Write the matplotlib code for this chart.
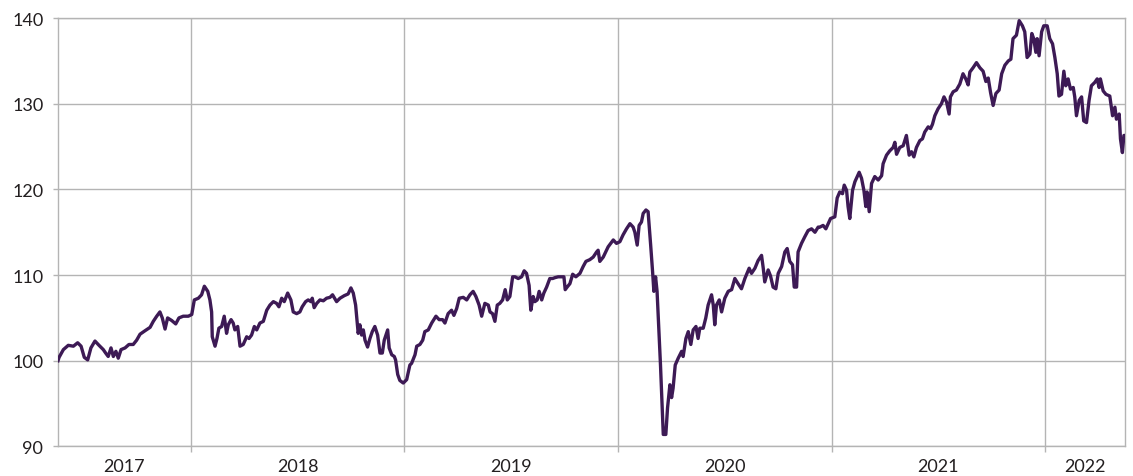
import matplotlib.pyplot as plt

# index level (start = 100), time in decimal years
years = [
    2017.379, 2017.384, 2017.404, 2017.427, 2017.451, 2017.471, 2017.487, 2017.502, 2017.518, 2017.533,
    2017.552, 2017.571, 2017.591, 2017.602, 2017.614, 2017.627, 2017.638, 2017.650, 2017.661, 2017.674,
    2017.693, 2017.711, 2017.731, 2017.747, 2017.763, 2017.786, 2017.810, 2017.825, 2017.841, 2017.856,
    2017.867, 2017.880, 2017.892, 2017.911, 2017.930, 2017.945, 2017.965, 2017.989, 2018.005, 2018.017,
    2018.036, 2018.051, 2018.064,
    2018.080, 2018.090, 2018.098, 2018.101, 2018.114, 2018.123, 2018.132, 2018.145, 2018.157, 2018.168,
    2018.176, 2018.189, 2018.199, 2018.207, 2018.220, 2018.231, 2018.246, 2018.262, 2018.273, 2018.285,
    2018.298, 2018.309, 2018.324, 2018.340, 2018.356, 2018.371, 2018.387, 2018.402, 2018.413, 2018.426,
    2018.438, 2018.454, 2018.469, 2018.480, 2018.496, 2018.511, 2018.522, 2018.538, 2018.550, 2018.563,
    2018.569, 2018.578, 2018.590, 2018.605, 2018.621, 2018.636, 2018.652, 2018.664, 2018.683, 2018.699,
    2018.719, 2018.737, 2018.750, 2018.761, 2018.772, 2018.784, 2018.792, 2018.800, 2018.808, 2018.816,
    2018.828, 2018.839, 2018.850, 2018.862, 2018.875, 2018.886, 2018.897, 2018.906, 2018.922, 2018.929,
    2018.941, 2018.953, 2018.959, 2018.969, 2018.979, 2018.995, 2019.011, 2019.026,
    2019.034, 2019.050, 2019.058, 2019.073, 2019.086, 2019.096, 2019.112, 2019.128, 2019.148, 2019.163,
    2019.179, 2019.190, 2019.205, 2019.221, 2019.232, 2019.245, 2019.257, 2019.276, 2019.292, 2019.307,
    2019.322, 2019.335, 2019.350, 2019.362, 2019.369, 2019.377, 2019.393, 2019.401, 2019.413, 2019.424,
    2019.435, 2019.447, 2019.460, 2019.472, 2019.482, 2019.494, 2019.507, 2019.518, 2019.533, 2019.549,
    2019.561, 2019.572, 2019.584, 2019.592, 2019.603, 2019.611, 2019.622, 2019.631, 2019.643, 2019.653,
    2019.666, 2019.681, 2019.694, 2019.705, 2019.720, 2019.736, 2019.747, 2019.753, 2019.762, 2019.775,
    2019.788, 2019.803, 2019.822, 2019.837, 2019.850, 2019.868, 2019.884, 2019.900, 2019.907, 2019.915,
    2019.931, 2019.954, 2019.978, 2019.993, 2020.009, 2020.024, 2020.040, 2020.056, 2020.071, 2020.079,
    2020.090, 2020.099, 2020.110, 2020.118, 2020.131, 2020.141, 2020.153, 2020.162, 2020.168, 2020.176,
    2020.183, 2020.193, 2020.199, 2020.205, 2020.212, 2020.224, 2020.232, 2020.243, 2020.251, 2020.258,
    2020.268, 2020.282, 2020.298, 2020.305, 2020.318, 2020.329, 2020.341, 2020.352, 2020.365, 2020.375,
    2020.383, 2020.399, 2020.411, 2020.422, 2020.438, 2020.446, 2020.453, 2020.461, 2020.474, 2020.485,
    2020.500, 2020.516, 2020.532, 2020.547, 2020.562, 2020.578, 2020.594, 2020.614, 2020.625, 2020.641,
    2020.656, 2020.672, 2020.680, 2020.687, 2020.703, 2020.714, 2020.726, 2020.739, 2020.750, 2020.766,
    2020.781, 2020.792, 2020.804, 2020.817, 2020.825, 2020.836, 2020.843, 2020.859, 2020.875, 2020.890,
    2020.906, 2020.922, 2020.937,
    2020.945, 2020.960, 2020.973, 2020.984, 2020.995, 2021.015, 2021.026, 2021.038, 2021.051, 2021.059,
    2021.070, 2021.077, 2021.085, 2021.098, 2021.109, 2021.129, 2021.140, 2021.151, 2021.160, 2021.166,
    2021.176, 2021.187, 2021.202, 2021.218, 2021.234, 2021.241, 2021.257, 2021.272, 2021.288, 2021.296,
    2021.304, 2021.319, 2021.335, 2021.350, 2021.363, 2021.374, 2021.385, 2021.397, 2021.413, 2021.425,
    2021.436, 2021.452, 2021.463, 2021.472, 2021.483, 2021.498, 2021.514, 2021.526, 2021.538, 2021.550,
    2021.556, 2021.569, 2021.584, 2021.600, 2021.615, 2021.628, 2021.639, 2021.647, 2021.662, 2021.678,
    2021.694, 2021.709, 2021.722, 2021.733, 2021.744, 2021.756, 2021.769, 2021.784, 2021.796, 2021.811,
    2021.827, 2021.839, 2021.849, 2021.865, 2021.878, 2021.893, 2021.904, 2021.915, 2021.928, 2021.937,
    2021.946, 2021.956, 2021.962, 2021.971, 2021.983, 2021.993, 2022.009, 2022.021, 2022.034, 2022.045,
    2022.056, 2022.064, 2022.076, 2022.087, 2022.096, 2022.107, 2022.118, 2022.131, 2022.138, 2022.146,
    2022.159, 2022.170, 2022.180, 2022.193, 2022.205, 2022.216, 2022.232, 2022.243, 2022.252, 2022.258,
    2022.271, 2022.284, 2022.302, 2022.315, 2022.326, 2022.333, 2022.346, 2022.352, 2022.361, 2022.368,
    2022.373,
]
index = [
    100.0, 100.4, 101.3, 101.8, 101.7, 102.1, 101.7, 100.4, 100.1, 101.5,
    102.3, 101.8, 101.3, 100.9, 100.5, 101.5, 100.5, 101.1, 100.3, 101.3,
    101.5, 101.9, 101.9, 102.4, 103.1, 103.5, 103.9, 104.6, 105.2, 105.7,
    105.0, 103.7, 105.0, 104.7, 104.3, 105.0, 105.2, 105.2, 105.4, 107.1,
    107.3, 107.7, 108.7,
    108.1, 107.1, 105.7, 102.8, 101.7, 102.6, 103.8, 104.0, 105.2, 103.2,
    104.2, 104.8, 104.4, 103.6, 104.0, 101.7, 101.9, 102.8, 102.6, 103.0,
    104.0, 103.6, 104.4, 104.6, 105.9, 106.5, 106.9, 106.7, 106.3, 107.3,
    106.9, 107.9, 107.1, 105.7, 105.5, 105.7, 106.3, 106.9, 107.1, 106.9,
    107.3, 106.2, 106.7, 107.1, 107.0, 107.3, 107.4, 107.7, 106.9, 107.3,
    107.6, 107.8, 108.5, 107.9, 106.5, 103.2, 104.2, 103.0, 103.6, 102.4,
    101.6, 102.6, 103.4, 104.0, 103.0, 100.9, 100.9, 102.4, 103.6, 101.5,
    100.7, 100.5, 100.1, 98.4, 97.7, 97.4, 97.8, 99.5,
    99.7, 100.7, 101.7, 101.9, 102.4, 103.4, 103.6, 104.4, 105.2, 104.8,
    104.8, 104.4, 105.5, 105.9, 105.3, 106.1, 107.3, 107.4, 107.1, 107.7,
    108.1, 107.5, 106.5, 105.2, 105.9, 106.7, 106.5, 105.7, 105.5, 104.6,
    106.5, 106.7, 107.1, 108.3, 107.1, 107.5, 109.8, 109.8, 109.6, 109.8,
    110.5, 110.2, 108.8, 105.9, 107.5, 106.9, 107.1, 108.1, 107.1, 107.9,
    108.6, 109.6, 109.6, 109.7, 109.8, 109.8, 109.8, 108.3, 108.6, 109.0,
    110.1, 109.8, 110.2, 111.0, 111.6, 111.8, 112.1, 112.7, 112.9, 111.6,
    112.1, 113.3, 114.1, 113.7, 113.9, 114.7, 115.4, 116.0, 115.6, 115.0,
    113.5, 115.8, 116.2, 117.2, 117.6, 117.4, 113.5, 110.4, 108.1, 109.8,
    108.1, 102.6, 99.5, 95.7, 91.4, 91.4, 94.5, 97.2, 95.7, 96.8,
    99.5, 100.3, 101.1, 100.5, 102.6, 103.4, 101.9, 103.6, 104.0, 102.6,
    103.8, 103.8, 105.0, 106.5, 107.7, 106.5, 104.2, 106.5, 107.1, 105.7,
    107.3, 108.1, 108.3, 109.6, 109.0, 108.4, 109.6, 110.8, 110.2, 110.8,
    111.7, 112.3, 110.8, 109.2, 110.6, 109.9, 108.6, 108.4, 110.2, 111.0,
    112.7, 113.1, 111.6, 111.2, 108.6, 108.6, 112.7, 113.7, 114.5, 115.2,
    115.4, 115.0, 115.6,
    115.6, 115.8, 115.4, 116.0, 116.6, 116.8, 119.0, 119.7, 119.5, 120.5,
    119.9, 118.0, 116.6, 119.9, 120.9, 122.0, 121.3, 119.9, 118.0, 119.7,
    117.4, 120.7, 121.5, 121.1, 121.6, 123.0, 124.0, 124.5, 124.9, 125.5,
    124.1, 124.9, 125.1, 126.3, 124.0, 124.4, 123.8, 124.9, 125.7, 125.9,
    126.7, 127.3, 127.1, 127.6, 128.6, 129.4, 130.0, 130.8, 130.2, 128.8,
    130.8, 131.4, 131.6, 132.3, 133.5, 132.9, 132.2, 133.7, 134.2, 134.8,
    134.2, 133.8, 132.6, 133.0, 131.3, 129.8, 131.2, 131.6, 133.5, 134.5,
    135.0, 135.2, 137.6, 138.0, 139.7, 139.1, 138.4, 135.4, 135.8, 138.2,
    137.6, 136.0, 137.6, 135.6, 138.4, 139.1, 139.1, 137.6, 137.0, 135.4,
    133.5, 130.9, 131.1, 133.8, 132.1, 132.9, 131.7, 131.9, 130.8, 128.6,
    130.4, 130.8, 128.0, 127.8, 130.4, 132.1, 132.5, 132.9, 131.9, 132.9,
    131.5, 131.1, 130.9, 128.6, 129.6, 128.2, 128.8, 125.9, 124.3, 126.3,
    126.3,
]
year_labels = ['2017', '2018', '2019', '2020', '2021', '2022']
year_starts = [2018, 2019, 2020, 2021, 2022]

x_start, x_end = 2017.379, 2022.373
grid_col = '#b4b4b4'
text_col = '#231f20'

plt.rcParams['font.family'] = ['Lato', 'DejaVu Sans']

fig, ax = plt.subplots(figsize=(11.33, 4.77), dpi=100)
fig.subplots_adjust(left=0.0512, right=0.9929, top=0.960, bottom=0.062)

ax.plot(years, index, color='#3d1a55', lw=2.4, solid_joinstyle='round', zorder=3)

ax.set_xlim(x_start, x_end)
ax.set_ylim(90, 140)
ax.set_yticks(range(90, 141, 10))

# year boundaries as major ticks, labels centred in each year span
edges = [x_start] + year_starts + [x_end]
mids = [(a + b) / 2 for a, b in zip(edges[:-1], edges[1:])]
ax.set_xticks(year_starts)
ax.set_xticklabels([])
ax.set_xticks(mids, minor=True)
ax.set_xticklabels(year_labels, minor=True)

ax.grid(which='major', color=grid_col, lw=1.0)
for s in ax.spines.values():
    s.set_color(grid_col)
    s.set_linewidth(1.0)

ax.tick_params(axis='both', which='major', direction='out', length=3.6, width=1.0,
               color=grid_col, labelsize=13, labelcolor=text_col)
ax.tick_params(axis='y', pad=7)
ax.tick_params(axis='x', which='major', length=4)
ax.tick_params(axis='x', which='minor', length=0, pad=8, labelsize=13, labelcolor=text_col)

fig.savefig('out.png', dpi=100)
